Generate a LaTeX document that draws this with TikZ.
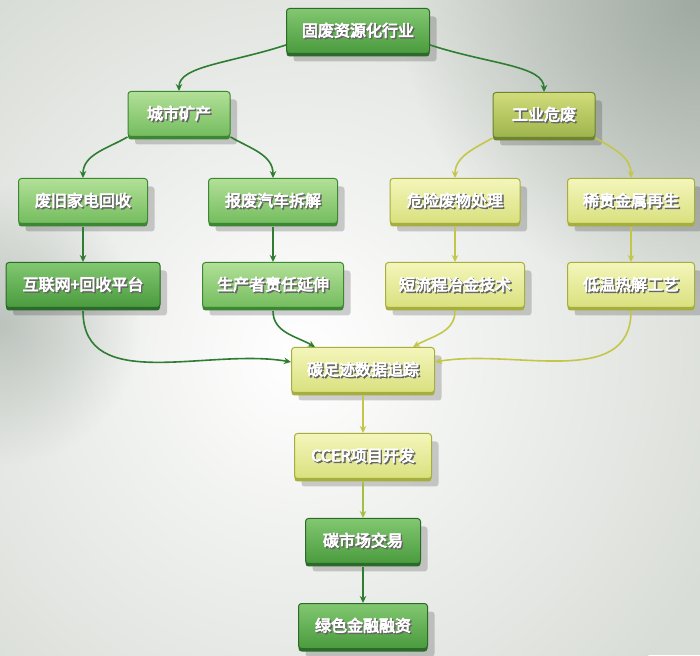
\documentclass[tikz,border=0pt]{standalone}
\usepackage{fontspec}
\setmainfont{Noto Sans CJK SC}
\usetikzlibrary{arrows.meta,shadows,calc,fadings}
\tikzfading[name=myfade, inner color=transparent!0, outer color=transparent!100]
\definecolor{bgc}{HTML}{D9DDD7}
\definecolor{dgtop}{HTML}{82C870}
\definecolor{dgbot}{HTML}{4A9A3E}
\definecolor{dgborder}{HTML}{2C6A2A}
\definecolor{lgtop}{HTML}{B2E098}
\definecolor{lgbot}{HTML}{74BC5E}
\definecolor{lgborder}{HTML}{3C8634}
\definecolor{oltop}{HTML}{D0DC7A}
\definecolor{olbot}{HTML}{9EB44C}
\definecolor{olborder}{HTML}{6E8430}
\definecolor{ytop}{HTML}{F4F6BA}
\definecolor{ybot}{HTML}{D9E07E}
\definecolor{yborder}{HTML}{A6AE3E}
\definecolor{garr}{HTML}{2E7D32}
\definecolor{yarr}{HTML}{C4C64A}
\definecolor{ygarr}{HTML}{A2C048}
\definecolor{corner}{HTML}{9FA9A1}
\newcommand\lbl[1]{%
 \makebox[0pt][l]{\raisebox{-1.4pt}{\kern1.4pt\special{pdf:literal direct q 2 Tr 0.9 w 0.35 0.35 0.35 RG}\textcolor{black!60}{#1}\special{pdf:literal direct Q}}}%
 \special{pdf:literal direct q 2 Tr 0.7 w 1 1 1 RG}\textcolor{white}{#1}\special{pdf:literal direct Q}}
\tikzset{
  box/.style={rounded corners=3pt, draw=#1border, line width=1pt,
    top color=#1top, bottom color=#1bot, minimum height=45pt, inner sep=0pt,
    drop shadow={shadow xshift=7pt, shadow yshift=-8pt, opacity=0.18, fill=black},
    general shadow={shadow yshift=-3pt, fill=#1border},
    font=\fontsize{16}{18}\selectfont},
  arr/.style={line width=1.6pt, draw=#1, -{Stealth[length=7pt,width=6.5pt]}}
}
\begin{document}
\begin{tikzpicture}[x=1pt,y=1pt]
\useasboundingbox (0,0) rectangle (700,655);
\begin{scope}
\clip (0,0) rectangle (700,655);
\fill[bgc] (0,0) rectangle (700,655);
\shade[inner color=white, outer color=bgc] (300,300) circle (460);
\fill[corner, path fading=myfade] (700,655) circle (300);
\fill[corner!70, path fading=myfade] (0,330) circle (140);
\end{scope}
% nodes
\node[box=dg, minimum width=143pt] (top) at (358,624) {\lbl{固废资源化行业}};
\node[box=lg, minimum width=102pt] (cs) at (179,541) {\lbl{城市矿产}};
\node[box=ol, minimum width=102pt] (gy) at (544,540) {\lbl{工业危废}};
\node[box=lg, minimum width=129pt] (f1) at (83,454) {\lbl{废旧家电回收}};
\node[box=lg, minimum width=129pt] (f2) at (273,454) {\lbl{报废汽车拆解}};
\node[box=y, minimum width=130pt] (f3) at (455,454) {\lbl{危险废物处理}};
\node[box=y, minimum width=127pt] (f4) at (631,454) {\lbl{稀贵金属再生}};
\node[box=dg, minimum width=154pt] (g1) at (83,370) {\lbl{互联网+回收平台}};
\node[box=lg, minimum width=141pt] (g2) at (273,370) {\lbl{生产者责任延伸}};
\node[box=y, minimum width=139pt] (g3) at (455,370) {\lbl{短流程冶金技术}};
\node[box=y, minimum width=127pt] (g4) at (631,370) {\lbl{低温热解工艺}};
\node[box=y, minimum width=143pt] (t) at (363,285) {\lbl{碳足迹数据追踪}};
\node[box=y, minimum width=137pt] (c) at (363,199) {\lbl{CCER项目开发}};
\node[box=dg, minimum width=115pt] (m) at (363,114) {\lbl{碳市场交易}};
\node[box=dg, minimum width=129pt] (j) at (363,29) {\lbl{绿色金融融资}};
% connectors
\draw[arr=garr] ([yshift=-14pt]top.west) to[out=198,in=90,out looseness=1.3,in looseness=0.55] (cs.north);
\draw[arr=garr] ([yshift=-14pt]top.east) to[out=-18,in=90,out looseness=1.3,in looseness=0.55] (gy.north);
\draw[arr=garr] (cs.south west) to[out=-150,in=90] (f1.north);
\draw[arr=garr] (cs.south east) to[out=-30,in=90] (f2.north);
\draw[arr=yarr] (gy.south west) to[out=-150,in=90] (f3.north);
\draw[arr=yarr] (gy.south east) to[out=-30,in=90] (f4.north);
\draw[arr=garr] ([yshift=-3pt]f1.south) -- (g1.north);
\draw[arr=garr] ([yshift=-3pt]f2.south) -- (g2.north);
\draw[arr=yarr] ([yshift=-3pt]f3.south) -- (g3.north);
\draw[arr=yarr] ([yshift=-3pt]f4.south) -- (g4.north);
\draw[arr=garr] ([yshift=-3pt]g1.south) to[out=-90,in=170] ([yshift=8pt]t.west);
\draw[arr=garr] ([yshift=-3pt]g2.south) to[out=-90,in=150] ([xshift=-48pt]t.north);
\draw[arr=yarr] ([yshift=-3pt]g3.south) to[out=-90,in=30] ([xshift=50pt]t.north);
\draw[arr=yarr] ([yshift=-3pt]g4.south) to[out=-90,in=10] ([yshift=8pt]t.east);
\draw[arr=yarr] ([yshift=-3pt]t.south) -- (c.north);
\draw[arr=ygarr] ([yshift=-3pt]c.south) -- (m.north);
\draw[arr=garr] ([yshift=-3pt]m.south) -- (j.north);
\end{tikzpicture}
\end{document}
